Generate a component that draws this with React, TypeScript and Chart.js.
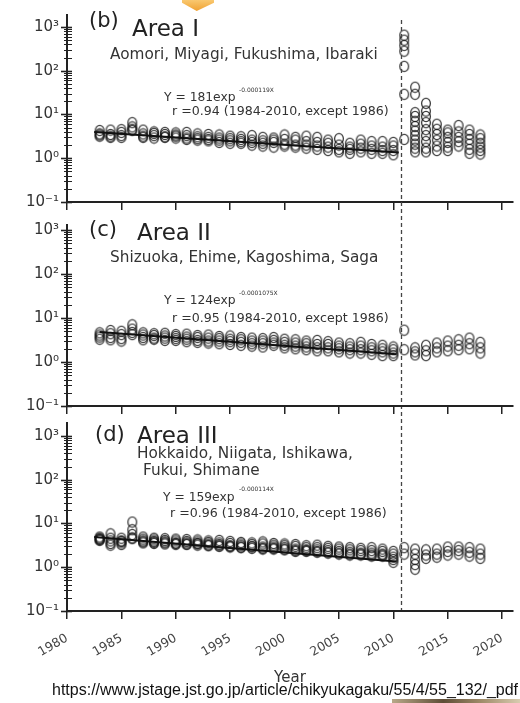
import React, { useEffect, useRef } from 'react';
import { Chart, registerables } from 'chart.js';
Chart.register(...registerables);

// ---------------- data ----------------
const YEARS_PRE = [1983, 1984, 1985, 1986, 1987, 1988, 1989, 1990, 1991, 1992, 1993, 1994, 1995, 1996, 1997, 1998, 1999, 2000, 2001, 2002, 2003, 2004, 2005, 2006, 2007, 2008, 2009, 2010];
const YEARS_POST = [2011, 2012, 2013, 2014, 2015, 2016, 2017, 2018];
const X_TICKS = [1980, 1985, 1990, 1995, 2000, 2005, 2010, 2015, 2020];
const Y_TICKS = [0.1, 1, 10, 100, 1000];
const Y_TICK_LABELS = ['10⁻¹', '10⁰', '10¹', '10²', '10³'];
const EVENT_YEAR = 2010.7;

// (b) Area I
const AREA1_S1 = [4.3, 4.4, 4.5, 6.5, 4.4, 4.0, 3.9, 3.8, 3.9, 3.6, 3.5, 3.4, 3.2, 3.1, 3.3, 3.0, 2.9, 3.4, 3.0, 3.2, 3.0, 2.6, 2.8, 2.2, 2.6, 2.4, 2.4, 2.3];
const AREA1_S2 = [3.4, 3.5, 3.9, 5.2, 3.6, 3.7, 3.5, 3.4, 3.3, 3.1, 3.0, 2.9, 2.8, 2.7, 2.6, 2.5, 2.6, 2.7, 2.6, 2.4, 2.3, 2.2, 2.0, 1.8, 2.1, 1.9, 1.8, 1.9];
const AREA1_S3 = [3.2, 3.0, 3.3, 4.3, 3.2, 3.3, 3.1, 3.2, 2.9, 2.8, 2.7, 2.6, 2.5, 2.4, 2.3, 2.2, 2.3, 2.1, 2.0, 2.0, 1.9, 1.8, 1.6, 1.6, 1.7, 1.6, 1.5, 1.5];
const AREA1_S4 = [3.6, 3.2, 3.0, 4.6, 3.0, 2.9, 3.0, 2.9, 2.7, 2.6, 2.5, 2.3, 2.2, 2.2, 2.0, 1.9, 1.8, 1.9, 1.8, 1.7, 1.6, 1.5, 1.4, 1.3, 1.4, 1.3, 1.3, 1.2];
const AREA1_POST = [
  [650, 500, 380, 280, 126, 29, 2.7],
  [42, 29, 11, 9, 7, 5.3, 4.2, 3.3, 2.6, 2.1, 1.7, 1.4],
  [18, 12, 9, 6.5, 4.5, 3.3, 2.4, 1.7, 1.4],
  [6, 4.6, 3.5, 2.6, 1.9, 1.5],
  [4.4, 3.8, 3.0, 2.3, 1.8, 1.5],
  [5.6, 4.0, 3.0, 2.4, 1.9],
  [4.4, 3.5, 2.7, 2.1, 1.6, 1.3],
  [3.4, 2.8, 2.2, 1.8, 1.5, 1.25],
];
const AREA1_FIT_X = [1982.5, 2010.5];
const AREA1_FIT_Y = [4.0, 1.35];

// (c) Area II
const AREA2_S1 = [4.6, 5.2, 5.0, 7.0, 4.6, 4.4, 4.5, 4.2, 4.3, 4.0, 4.1, 3.8, 3.9, 3.6, 3.5, 3.4, 3.6, 3.3, 3.2, 3.0, 3.1, 2.9, 2.7, 2.6, 2.8, 2.5, 2.4, 2.2];
const AREA2_S2 = [4.1, 4.4, 4.2, 5.6, 4.1, 4.0, 3.9, 3.8, 3.7, 3.6, 3.5, 3.4, 3.3, 3.2, 3.0, 3.0, 3.1, 2.8, 2.7, 2.6, 2.5, 2.5, 2.3, 2.2, 2.3, 2.1, 2.0, 1.9];
const AREA2_S3 = [3.7, 3.6, 3.4, 4.7, 3.6, 3.5, 3.5, 3.4, 3.3, 3.1, 3.0, 3.0, 2.9, 2.8, 2.6, 2.6, 2.7, 2.4, 2.3, 2.2, 2.1, 2.1, 2.0, 1.9, 1.9, 1.8, 1.7, 1.6];
const AREA2_S4 = [3.3, 3.2, 3.0, 4.2, 3.2, 3.3, 3.1, 3.1, 2.9, 2.8, 2.7, 2.6, 2.5, 2.4, 2.3, 2.2, 2.4, 2.1, 2.0, 1.9, 1.8, 1.8, 1.7, 1.6, 1.6, 1.5, 1.4, 1.4];
const AREA2_POST = [
  [5.3, 1.9],
  [2.1, 1.7, 1.45],
  [2.4, 1.8, 1.4],
  [2.7, 2.1, 1.7],
  [3.0, 2.3, 1.8],
  [3.2, 2.4, 1.9],
  [3.5, 2.6, 2.0],
  [2.8, 2.1, 1.6],
];
const AREA2_FIT_X = [1983, 2010.3];
const AREA2_FIT_Y = [4.8, 1.5];

// (d) Area III
const AREA3_S1 = [4.9, 5.8, 4.6, 10.8, 4.9, 4.6, 4.5, 4.4, 4.3, 4.2, 4.0, 4.1, 3.9, 3.7, 3.6, 3.8, 3.5, 3.4, 3.3, 3.1, 3.2, 3.0, 2.9, 2.8, 2.7, 2.8, 2.6, 2.3];
const AREA3_S2 = [4.3, 4.6, 4.0, 7.2, 4.4, 4.2, 4.1, 4.0, 3.9, 3.8, 3.7, 3.6, 3.5, 3.4, 3.3, 3.4, 3.2, 3.1, 3.0, 2.8, 2.8, 2.7, 2.6, 2.5, 2.4, 2.4, 2.3, 2.0];
const AREA3_S3 = [4.6, 4.0, 3.6, 5.6, 4.0, 3.9, 3.8, 3.6, 3.6, 3.5, 3.4, 3.3, 3.1, 3.1, 3.0, 2.9, 2.9, 2.8, 2.6, 2.5, 2.5, 2.4, 2.3, 2.2, 2.1, 2.1, 2.0, 1.7];
const AREA3_S4 = [4.1, 3.2, 3.3, 4.7, 3.6, 3.5, 3.4, 3.3, 3.3, 3.2, 3.1, 3.0, 2.9, 2.8, 2.7, 2.6, 2.6, 2.5, 2.3, 2.3, 2.2, 2.1, 2.0, 1.9, 1.9, 1.8, 1.8, 1.5];
const AREA3_S5 = [4.4, 3.5, 3.9, 4.5, 3.8, 3.7, 3.6, 3.5, 3.4, 3.4, 3.2, 3.1, 3.0, 2.9, 2.9, 2.7, 2.7, 2.6, 2.4, 2.4, 2.3, 2.2, 2.1, 2.0, 2.0, 1.9, 1.9, 1.3];
const AREA3_POST = [
  [2.8, 2.0],
  [2.6, 2.0, 1.5, 1.15, 0.9],
  [2.5, 1.9, 1.6],
  [2.6, 2.0, 1.7],
  [2.9, 2.3, 1.9],
  [2.9, 2.4, 2.0],
  [2.8, 2.2, 1.8],
  [2.6, 2.0, 1.6],
];
const AREA3_FIT_X = [1982.5, 2010.3];
const AREA3_FIT_Y = [4.9, 1.35];

// ---------------- layout ----------------
const W = 520;
const H = 703;
const AREA_LEFT = 67;
const AREA_RIGHT = 513;
const X_MIN = 1980;
const X_MAX = 2021;
const FONT = '"DejaVu Sans", Verdana, sans-serif';

type TextItem = { t: string; x: number; y: number; size: number; color?: string };
type Panel = {
  areaTop: number; areaBottom: number; yMax: number; xAxisH: number; showX: boolean;
  series: number[][]; post: number[][]; fitX: number[]; fitY: number[]; texts: TextItem[]; dashed: boolean;
};

const PANELS: Panel[] = [
  {
    areaTop: 15, areaBottom: 202, yMax: 1880, xAxisH: 12, showX: false, dashed: true,
    series: [AREA1_S1, AREA1_S2, AREA1_S3, AREA1_S4], post: AREA1_POST, fitX: AREA1_FIT_X, fitY: AREA1_FIT_Y,
    texts: [
      { t: '(b)', x: 89, y: 27, size: 21, color: '#222' },
      { t: 'Area I', x: 132, y: 36, size: 23, color: '#222' },
      { t: 'Aomori, Miyagi, Fukushima, Ibaraki', x: 110, y: 59, size: 15.3 },
      { t: 'Y = 181exp', x: 164, y: 101, size: 12.3 },
      { t: '-0.000119X', x: 239, y: 92, size: 6 },
      { t: 'r =0.94 (1984-2010, except 1986)', x: 172, y: 115, size: 12.6 },
    ],
  },
  {
    areaTop: 225, areaBottom: 406, yMax: 1300, xAxisH: 12, showX: false, dashed: false,
    series: [AREA2_S1, AREA2_S2, AREA2_S3, AREA2_S4], post: AREA2_POST, fitX: AREA2_FIT_X, fitY: AREA2_FIT_Y,
    texts: [
      { t: '(c)', x: 89, y: 236, size: 21, color: '#222' },
      { t: 'Area II', x: 137, y: 240, size: 23, color: '#222' },
      { t: 'Shizuoka, Ehime, Kagoshima, Saga', x: 110, y: 262, size: 15.3 },
      { t: 'Y = 124exp', x: 164, y: 304, size: 12.3 },
      { t: '-0.0001075X', x: 239, y: 295, size: 6 },
      { t: 'r =0.95 (1984-2010, except 1986)', x: 172, y: 322, size: 12.6 },
    ],
  },
  {
    areaTop: 423, areaBottom: 611, yMax: 1980, xAxisH: 76, showX: true, dashed: false,
    series: [AREA3_S1, AREA3_S2, AREA3_S3, AREA3_S4, AREA3_S5], post: AREA3_POST, fitX: AREA3_FIT_X, fitY: AREA3_FIT_Y,
    texts: [
      { t: '(d)', x: 95, y: 441, size: 21, color: '#222' },
      { t: 'Area III', x: 137, y: 443, size: 23, color: '#222' },
      { t: 'Hokkaido, Niigata, Ishikawa,', x: 137, y: 458, size: 15.3 },
      { t: 'Fukui, Shimane', x: 143, y: 475, size: 15.3 },
      { t: 'Y = 159exp', x: 163, y: 501, size: 12.3 },
      { t: '-0.000114X', x: 239, y: 491, size: 6 },
      { t: 'r =0.96 (1984-2010, except 1986)', x: 170, y: 517, size: 12.6 },
    ],
  },
];

function makeMarker(): HTMLCanvasElement {
  const c = document.createElement('canvas');
  c.width = 12;
  c.height = 13;
  const g = c.getContext('2d')!;
  g.strokeStyle = 'rgba(20,20,20,0.82)';
  g.lineWidth = 1.3;
  g.beginPath();
  g.ellipse(6, 6.5, 4.4, 5.2, 0, 0, Math.PI * 2);
  g.stroke();
  return c;
}

function buildChart(canvas: HTMLCanvasElement, p: Panel, marker: HTMLCanvasElement) {
  const datasets: any[] = [];
  datasets.push({
    data: p.fitX.map((x, i) => ({ x, y: p.fitY[i] })),
    showLine: true, borderColor: '#111', borderWidth: 2, pointRadius: 0, fill: false,
  });
  p.series.forEach((s) => {
    datasets.push({
      data: YEARS_PRE.map((x, i) => ({ x, y: s[i] })),
      pointStyle: marker, pointRadius: 5, showLine: false,
    });
  });
  datasets.push({
    data: YEARS_POST.flatMap((x, i) => p.post[i].map((y) => ({ x, y }))),
    pointStyle: marker, pointRadius: 5, showLine: false,
  });

  const overlay = {
    id: 'overlay' + p.areaTop,
    afterDraw(chart: any) {
      const ctx = chart.ctx;
      const ys = chart.scales.y;
      const xs = chart.scales.x;
      const x0 = ys.right;
      ctx.save();
      ctx.strokeStyle = '#222';
      for (let k = -1; k <= 3; k++) {
        for (let m = 1; m <= 9; m++) {
          const v = m * Math.pow(10, k);
          if (v > ys.max * 1.0001 || v < ys.min * 0.9999) continue;
          const py = Math.round(ys.getPixelForValue(v)) + 0.5;
          ctx.lineWidth = m === 1 ? 1.6 : 1;
          ctx.beginPath();
          ctx.moveTo(m === 1 ? x0 - 6 : x0 - 3, py);
          ctx.lineTo(x0 + 5, py);
          ctx.stroke();
        }
      }
      ctx.textBaseline = 'alphabetic';
      ctx.textAlign = 'left';
      p.texts.forEach((t) => {
        ctx.font = `${t.size}px ${FONT}`;
        ctx.fillStyle = t.color || '#333';
        ctx.fillText(t.t, t.x, t.y);
      });
      if (p.dashed) {
        const px = Math.round(xs.getPixelForValue(EVENT_YEAR)) + 0.5;
        ctx.strokeStyle = '#444';
        ctx.lineWidth = 1.3;
        ctx.setLineDash([4, 3]);
        ctx.beginPath();
        ctx.moveTo(px, 20);
        ctx.lineTo(px, 613);
        ctx.stroke();
      }
      ctx.restore();
    },
  };

  return new Chart(canvas, {
    type: 'scatter',
    data: { datasets },
    options: {
      responsive: false,
      animation: false,
      events: [],
      layout: { padding: { left: 0, right: W - AREA_RIGHT, top: p.areaTop, bottom: H - p.areaBottom - p.xAxisH } },
      plugins: { legend: { display: false }, tooltip: { enabled: false }, title: { display: false } },
      elements: { point: { borderColor: 'rgba(20,20,20,0.82)', backgroundColor: 'rgba(0,0,0,0)' } },
      scales: {
        x: {
          type: 'linear', min: X_MIN, max: X_MAX,
          afterBuildTicks: (s: any) => { s.ticks = X_TICKS.map((v) => ({ value: v })); },
          afterFit: (s: any) => { s.height = p.xAxisH; s.paddingLeft = 0; s.paddingRight = 0; },
          grid: { display: true, drawOnChartArea: false, drawTicks: true, tickLength: 8, color: '#222', lineWidth: 1.5 },
          border: { display: true, color: '#222', width: 2 },
          ticks: {
            display: p.showX, autoSkip: false, minRotation: 30, maxRotation: 30, padding: 12,
            color: '#444', font: { family: FONT, size: 12.5 },
            callback: (v: any) => String(v),
          },
          title: { display: p.showX, text: 'Year', color: '#333', font: { family: FONT, size: 15 }, padding: { top: 0, bottom: 0 } },
        },
        y: {
          type: 'logarithmic', min: 0.1, max: p.yMax,
          afterBuildTicks: (s: any) => { s.ticks = Y_TICKS.map((v) => ({ value: v })); },
          afterFit: (s: any) => { s.width = AREA_LEFT; s.paddingTop = 0; s.paddingBottom = 0; },
          grid: { display: false, drawTicks: false },
          border: { display: true, color: '#222', width: 2 },
          ticks: {
            autoSkip: false, padding: 8, color: '#333', font: { family: FONT, size: 15 },
            callback: (v: any) => {
              const i = Y_TICKS.findIndex((t) => Math.abs(t - Number(v)) < t * 1e-6);
              return i >= 0 ? Y_TICK_LABELS[i] : '';
            },
          },
        },
      },
    } as any,
    plugins: [overlay],
  });
}

export default function App() {
  const r1 = useRef<HTMLCanvasElement>(null);
  const r2 = useRef<HTMLCanvasElement>(null);
  const r3 = useRef<HTMLCanvasElement>(null);

  useEffect(() => {
    const marker = makeMarker();
    const refs = [r1, r2, r3];
    const charts = PANELS.map((p, i) => buildChart(refs[i].current!, p, marker));
    return () => charts.forEach((c) => c.destroy());
  }, []);

  const cv: React.CSSProperties = { position: 'absolute', left: 0, top: 0, width: W, height: H };
  return (
    <div style={{ position: 'fixed', left: 0, top: 0, width: W, height: H, background: '#fff', overflow: 'hidden' }}>
      <canvas ref={r1} width={W} height={H} style={cv} />
      <canvas ref={r2} width={W} height={H} style={cv} />
      <canvas ref={r3} width={W} height={H} style={cv} />
      <div style={{ position: 'absolute', left: 182, top: 0, width: 32, height: 11, background: 'linear-gradient(#f9c870, #f0a232)', clipPath: 'polygon(0 0, 100% 0, 100% 25%, 46% 100%, 0 25%)' }} />
      <div style={{ position: 'absolute', left: 52, top: 682, fontFamily: '"Liberation Sans", Arial, sans-serif', fontSize: 16, lineHeight: '16px', color: '#111', whiteSpace: 'nowrap' }}>
        https://www.jstage.jst.go.jp/article/chikyukagaku/55/4/55_132/_pdf
      </div>
      <div style={{ position: 'absolute', left: 392, top: 699, width: 128, height: 4, background: 'linear-gradient(90deg, #b8a888, #5e4d36 40%, #a08c6a 70%, #d8ccb0)' }} />
    </div>
  );
}
